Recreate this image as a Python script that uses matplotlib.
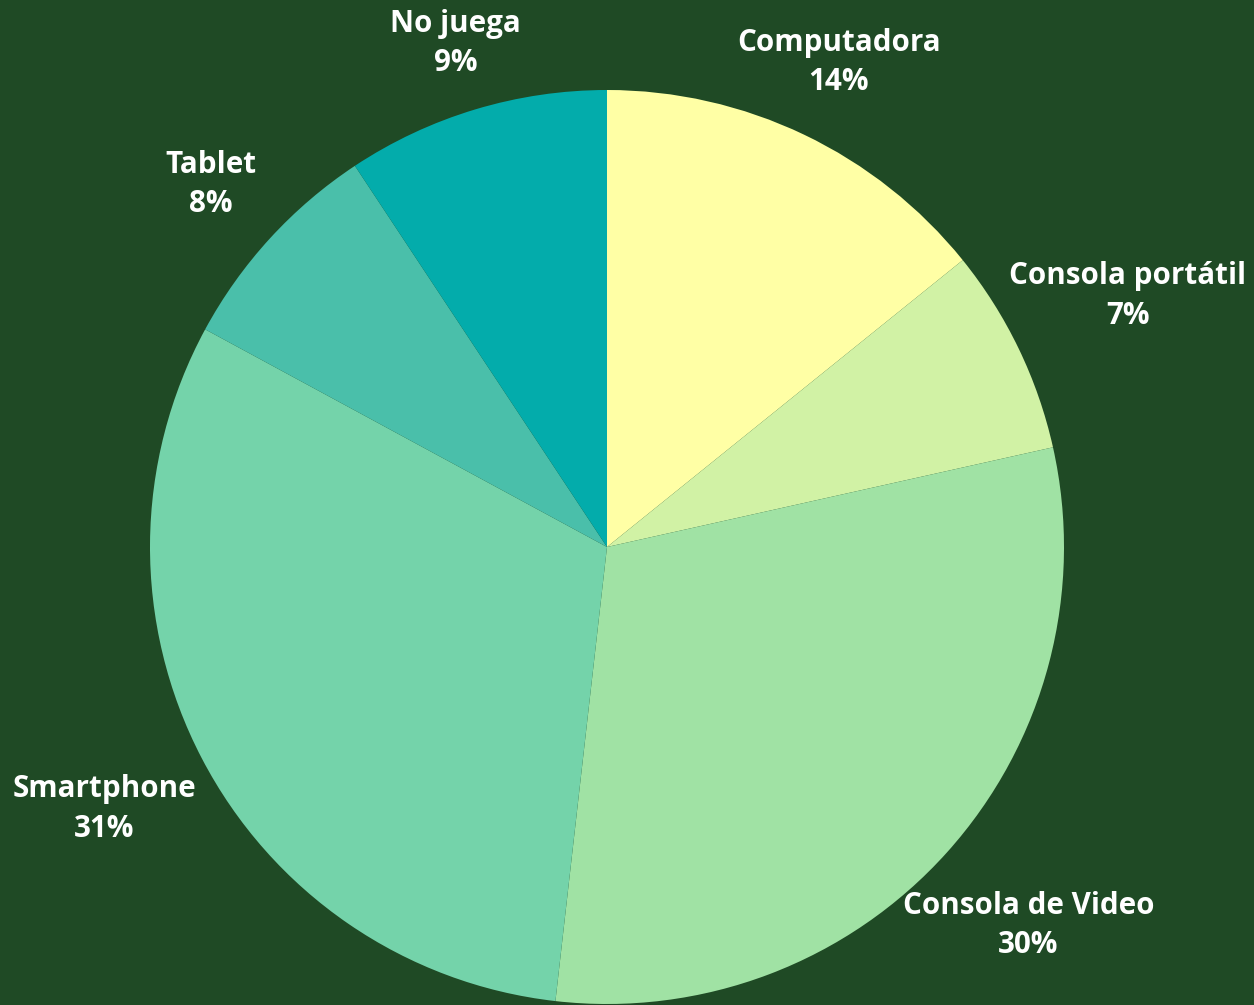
import numpy as np
import matplotlib.pyplot as plt

# data
categories = ["Computadora", "Consola portátil", "Consola de Video",
              "Smartphone", "Tablet", "No juega"]
shares = [14.2, 7.3, 30.3, 31.1, 7.8, 9.3]
pct_labels = ["14%", "7%", "30%", "31%", "8%", "9%"]

colors = ["#FFFFA5", "#D1F2A5", "#A0E2A4", "#74D3AA", "#4ABFAA", "#03ACAB"]
label_dist = [1.175, 1.265, 1.24, 1.24, 1.175, 1.15]
bg = "#1F4A25"

W, H = 1254, 1005
cx, cy, R = 607, 547, 457

fig = plt.figure(figsize=(W / 100, H / 100), dpi=100, facecolor=bg)
ax = fig.add_axes([0, 0, 1, 1])
ax.set_facecolor(bg)

wedges, _ = ax.pie(shares, colors=colors, startangle=90, counterclock=False,
                   wedgeprops=dict(linewidth=0))

ax.set_xlim(-cx / R, (W - cx) / R)
ax.set_ylim(-(H - cy) / R, cy / R)
ax.set_aspect("auto")
ax.axis("off")

# labels outside the slices
for w, name, pct, d in zip(wedges, categories, pct_labels, label_dist):
    ang = np.deg2rad((w.theta1 + w.theta2) / 2)
    x, y = d * np.cos(ang), d * np.sin(ang)
    ax.text(x, y, name + "\n" + pct, ha="center", va="center",
            fontsize=21.3, fontweight="bold", family=["Open Sans", "DejaVu Sans"],
            color="white", linespacing=1.4)

fig.savefig("out.png", dpi=100, facecolor=bg)
